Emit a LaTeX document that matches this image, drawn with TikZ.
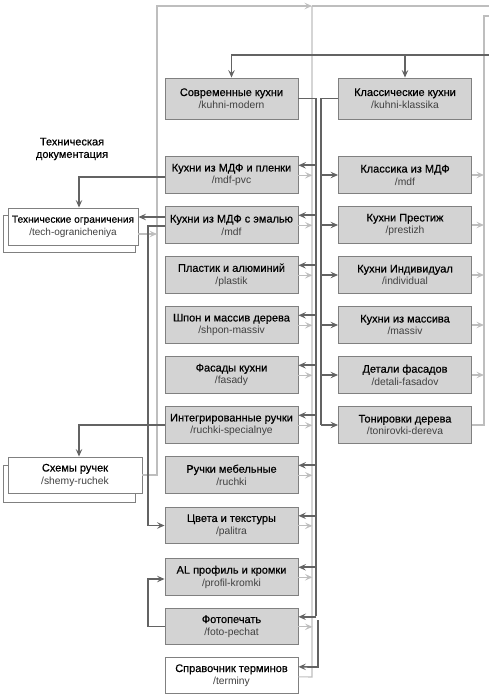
\documentclass[tikz,border=0pt]{standalone}
\usepackage{fontspec}
\setmainfont{Liberation Sans}
\newfontfamily\titlefont{Liberation Sans}[FakeBold=0.5]
\usetikzlibrary{arrows.meta,calc}
\definecolor{boxfill}{HTML}{D3D3D3}
\definecolor{boxline}{HTML}{808080}
\definecolor{darkline}{HTML}{636363}
\definecolor{lightline}{HTML}{BEBEBE}
\definecolor{subtext}{HTML}{404040}
\newcommand\boxtext[2]{{\titlefont\fontsize{11}{13}\selectfont #1}\\{\fontsize{10.3}{12}\selectfont\color{subtext}#2}}
\newcommand\smallboxtext[2]{{\titlefont\fontsize{10.2}{13}\selectfont #1}\\{\fontsize{10}{12}\selectfont\color{subtext}#2}}
\begin{document}
\begin{tikzpicture}[x=1pt,y=-1pt,
  pagebox/.style={draw=boxline,line width=0.9pt,fill=boxfill,minimum width=133pt,minimum height=36.5pt,inner sep=0pt,align=center,font=\fontsize{10.5}{12.5}\selectfont},
  bigbox/.style={pagebox,minimum height=41pt},
  whitebox/.style={pagebox,fill=white},
  dk/.style={draw=darkline,line width=1.7pt},
  lt/.style={draw=lightline,line width=1.1pt},
  tipstyle/.style={-{Stealth[length=7.5pt,width=6.5pt,inset=3pt]}},
  dkarrow/.style={dk,tipstyle},
  ltarrow/.style={lt,tipstyle},
]
\useasboundingbox (0,0) rectangle (489,696);
% left column
\node[bigbox] (modern) at (231.5,98.5) {\boxtext{Современные кухни}{/kuhni-modern}};
\node[pagebox] (mdfpvc) at (231.5,175) {\boxtext{Кухни из МДФ и пленки}{/mdf-pvc}};
\node[pagebox] (mdf) at (231.5,225) {\boxtext{Кухни из МДФ с эмалью}{/mdf}};
\node[pagebox] (plastik) at (231.5,275) {\boxtext{Пластик и алюминий}{/plastik}};
\node[pagebox] (shpon) at (231.5,325) {\boxtext{Шпон и массив дерева}{/shpon-massiv}};
\node[pagebox] (fasady) at (231.5,375) {\boxtext{Фасады кухни}{/fasady}};
\node[pagebox] (ruchspec) at (231.5,425) {\boxtext{Интегрированные ручки}{/ruchki-specialnye}};
\node[pagebox] (ruchki) at (231.5,475) {\boxtext{Ручки мебельные}{/ruchki}};
\node[pagebox] (palitra) at (231.5,525.5) {\boxtext{Цвета и текстуры}{/palitra}};
\node[pagebox] (profil) at (231.5,577) {\boxtext{AL профиль и кромки}{/profil-kromki}};
\node[pagebox] (foto) at (231.5,626.5) {\boxtext{Фотопечать}{/foto-pechat}};
\node[whitebox] (terminy) at (231.5,675.5) {\boxtext{Справочник терминов}{/terminy}};
% right column
\node[bigbox] (klassika) at (405,98.5) {\boxtext{Классические кухни}{/kuhni-klassika}};
\node[pagebox] (kmdf) at (405,175) {\boxtext{Классика из МДФ}{/mdf}};
\node[pagebox] (prestizh) at (405,225) {\boxtext{Кухни Престиж}{/prestizh}};
\node[pagebox] (individual) at (405,275) {\boxtext{Кухни Индивидуал}{/individual}};
\node[pagebox] (massiv) at (405,325) {\boxtext{Кухни из массива}{/massiv}};
\node[pagebox] (detali) at (405,375) {\boxtext{Детали фасадов}{/detali-fasadov}};
\node[pagebox] (tonirovki) at (405,425) {\boxtext{Тонировки дерева}{/tonirovki-dereva}};
% left side
\node[font=\titlefont\fontsize{11}{12.5}\selectfont,align=center] (techdoc) at (72,149) {Техническая\\документация};
\node[whitebox,minimum width=132pt,minimum height=37pt] (techback) at (69,233.5) {};
\node[whitebox,minimum width=130pt,minimum height=37pt] (tech) at (73,226.5) {\smallboxtext{Технические ограничения}{/tech-ogranicheniya}};
\node[whitebox,minimum width=132pt,minimum height=37pt] (shemyback) at (69,483.5) {};
\node[whitebox,minimum width=134pt,minimum height=36pt] (shemy) at (75,475) {\boxtext{Схемы ручек}{/shemy-ruchek}};
% free ends
\coordinate (topin) at (489,55);
\coordinate (topout) at (489,6);
\coordinate (rightout) at (489,16);
\coordinate (ltop) at (312,6);
% light connectors
\draw[lt] (ltop) -- (topout);
\draw[lt] (ltop) -- (312,677) -- ($(terminy.north east)+(0,20)$);
\draw[ltarrow] (shemy.east) -- (157,475) -- (157,6) -- (ltop);
\draw[ltarrow] ($(tech.east)+(0,7.5)$) -- (157,234);
\foreach \n in {mdfpvc,mdf,plastik,shpon,fasady,ruchspec,ruchki,palitra,profil,foto}
  \draw[ltarrow] ($(\n.north east)+(0,19)$) -- ++(14,0);
\foreach \n in {kmdf,prestizh,individual,massiv,detali}
  \draw[ltarrow] (\n.east) -- ++(12,0);
\draw[lt] (tonirovki.east) -- (484,425) -- (484,16) -- (rightout);
% dark connectors
\draw[dkarrow] (topin) -| (modern.north);
\draw[dkarrow] (klassika.north |- topin) -- (klassika.north);
\draw[dk] (modern.east) -- (316,98.5) -- (316,616);
\foreach \n in {mdfpvc,mdf,plastik,shpon,fasady,ruchspec,ruchki,palitra,profil,foto}
  \draw[dkarrow] ($(\n.north east)+(18,9)$) -- ++(-18,0);
\draw[dkarrow] (318,620) -- (318,667) -- ($(terminy.north east)+(0,10)$);
\draw[dk] (klassika.west) -- (321,98.5) -- (321,425);
\foreach \n in {kmdf,prestizh,individual,massiv,detali,tonirovki}
  \draw[dkarrow] ($(\n.west)+(-17,0)$) -- (\n.west);
\draw[dkarrow] ($(mdfpvc.west)+(0,2)$) -- (79,177) -- ($(tech.north)+(6,0)$);
\draw[dkarrow] ($(mdf.west)+(0,-8)$) -- ($(tech.east)+(0,-9.5)$);
\draw[dkarrow] ($(mdf.west)+(0,1)$) -- (148,226) -- (148,525.5) -- (palitra.west);
\draw[dkarrow] (ruchspec.west) -- (79,425) -- ($(shemy.north)+(4,0)$);
\draw[dkarrow,line width=1.3pt] (foto.west) -- (148,626.5) -- (148,579) -- ($(profil.west)+(0,2)$);
\end{tikzpicture}
\end{document}
